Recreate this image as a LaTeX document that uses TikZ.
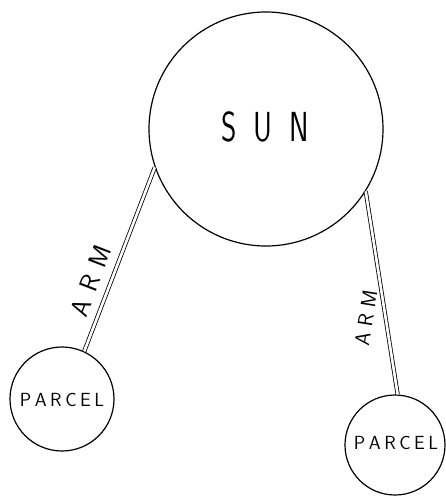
\documentclass[tikz,border=0pt]{standalone}
\usepackage{fontspec}
\begin{document}
\begin{tikzpicture}[x=1pt,y=1pt,
  body/.style={circle,draw,line width=1.2pt,inner sep=0pt},
  armline/.style={draw,line width=0.8pt,double,double distance=2.6pt},
  parceltext/.style={font=\sffamily\fontsize{19}{19}\selectfont,inner sep=1pt}]
\useasboundingbox (0,0) rectangle (446,-496);
\node[body,minimum size=234pt] (sun) at (266,-129) {};
\node[font=\sffamily\fontsize{42}{42}\selectfont,inner sep=0pt] (suntext) at (265,-127) {\scalebox{0.7}[1]{S\hspace{24pt}U\hspace{24pt}N}};
\node[body,minimum size=104pt] (p1) at (62,-399) {};
\node[parceltext] (p1text) at (62,-400) {P\hspace{3.5pt}A\hspace{3.5pt}R\hspace{3.5pt}C\hspace{3.5pt}E\hspace{3.5pt}L};
\node[body,minimum size=100pt] (p2) at (395,-445) {};
\node[parceltext] (p2text) at (396,-443) {P\hspace{3.5pt}A\hspace{3.5pt}R\hspace{3.5pt}C\hspace{3.5pt}E\hspace{3.5pt}L};
\draw[armline] (sun.199) -- (p1.65);
\draw[armline] (sun.328) -- (p2.87);
\node[font=\sffamily\fontsize{26}{26}\selectfont,inner sep=0pt,rotate=69] (arm1) at (91,-281) {A\hspace{10pt}R\hspace{10pt}M};
\node[font=\sffamily\fontsize{21}{21}\selectfont,inner sep=0pt,rotate=81] (arm2) at (366,-318) {A\hspace{6pt}R\hspace{6pt}M};
\end{tikzpicture}
\end{document}
